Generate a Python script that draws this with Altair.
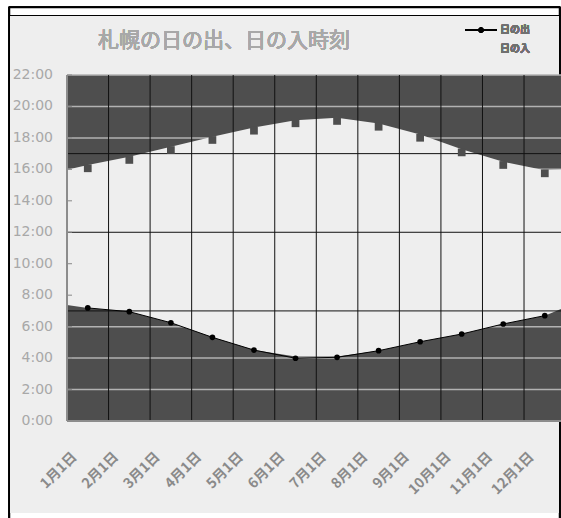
import altair as alt
import pandas as pd

# ---------------- data ----------------
title_text = "札幌の日の出、日の入時刻"
series_names = ["日の出", "日の入"]
month_labels = ["1月1日", "2月1日", "3月1日", "4月1日", "5月1日", "6月1日",
                "7月1日", "8月1日", "9月1日", "10月1日", "11月1日", "12月1日"]
month_pos = [0.5, 1.5, 2.5, 3.5, 4.5, 5.5, 6.5, 7.5, 8.5, 9.5, 10.5, 11.5]
sunrise = [7.19, 6.95, 6.25, 5.32, 4.51, 3.99, 4.05, 4.47, 5.04, 5.53, 6.17, 6.70]
sunset = [16.07, 16.60, 17.23, 17.87, 18.46, 18.93, 19.08, 18.71, 18.01, 17.08, 16.28, 15.75]
band_pos = [0, 0.5, 1.5, 2.5, 3.5, 4.5, 5.5, 6.5, 7.5, 8.5, 9.5, 10.5, 11.5, 12]
band_rise = [7.38, 7.19, 6.95, 6.25, 5.32, 4.51, 4.10, 4.10, 4.47, 5.04, 5.53, 6.17, 6.70, 7.25]
band_set = [15.97, 16.27, 16.80, 17.43, 18.07, 18.66, 19.13, 19.28, 18.91, 18.21, 17.28, 16.48, 15.95, 16.00]
hour_ticks = [0, 2, 4, 6, 8, 10, 12, 14, 16, 18, 20, 22]
black_hours = [7, 12, 17]
month_lines = [1, 2, 3, 4, 5, 6, 7, 8, 9, 10, 11]

# ---------------- tables ----------------
pts = pd.DataFrame({"m": month_pos, "rise": sunrise, "set": sunset})
band = pd.DataFrame({"m": band_pos, "rise": band_rise, "set": band_set})
hours = pd.DataFrame({"h": hour_ticks})
bh = pd.DataFrame({"h": black_hours})
vl = pd.DataFrame({"m": month_lines})
xl = pd.DataFrame({"m": month_pos, "label": month_labels})

W, H = 494, 346
X_MAX = 11.89
DARK = "#4e4e4e"
LIGHT = "#eeeeee"
CJK = "Noto Sans CJK JP"

xs = alt.Scale(domain=[0, X_MAX], nice=False, zero=False)
ys = alt.Scale(domain=[0, 22], nice=False, zero=False)

X = lambda f: alt.X(f, scale=xs, axis=None)
Y = lambda f: alt.Y(f, scale=ys, axis=None)

# ---------------- decoration (frame, backgrounds) ----------------
frame = alt.Chart(pts).mark_rect(fill="white", stroke="black", strokeWidth=1.5).encode(
    x=alt.value(-57.5), x2=alt.value(492.5), y=alt.value(-67.5), y2=alt.value(470))
inner_line = alt.Chart(pts).mark_rule(color="black", strokeWidth=1).encode(
    x=alt.value(-57.5), x2=alt.value(492.5), y=alt.value(-59.5))
gray_bg = alt.Chart(pts).mark_rect(fill=LIGHT).encode(
    x=alt.value(-57), x2=alt.value(492), y=alt.value(-59), y2=alt.value(437.5))
dark_bg = alt.Chart(pts).mark_rect(fill=DARK).encode(
    x=alt.value(0), x2=alt.value(W), y=alt.value(0), y2=alt.value(H))

# ---------------- chart content ----------------
grid = alt.Chart(hours).mark_rule(color="#b2b2b2", strokeWidth=1.5).encode(y=Y("h:Q"))

area = alt.Chart(band).mark_area(color=LIGHT, clip=True, interpolate="linear").encode(
    x=X("m:Q"), y=Y("set:Q"), y2="rise:Q")

hrules = alt.Chart(bh).mark_rule(color="#111111", strokeWidth=1).encode(y=Y("h:Q"))
vrules = alt.Chart(vl).mark_rule(color="#111111", strokeWidth=1).encode(x=X("m:Q"))

inner_ticks = alt.Chart(hours).mark_rule(color="#888888", strokeWidth=1).encode(
    x=alt.value(0), x2=alt.value(5), y=Y("h:Q"))

rise_line = alt.Chart(pts).mark_line(color="black", strokeWidth=1).encode(
    x=X("m:Q"), y=Y("rise:Q"))
rise_pts = alt.Chart(pts).mark_point(shape="circle", filled=True, color="black",
                                     size=32, opacity=1).encode(x=X("m:Q"), y=Y("rise:Q"))
set_pts = alt.Chart(pts).mark_point(shape="square", filled=True, color=DARK,
                                    size=60, opacity=1).encode(x=X("m:Q"), y=Y("set:Q"))

# ---------------- axes (domain lines + labels through the scales) ----------------
y_domain = alt.Chart(pts).mark_rule(color="#8c8c8c", strokeWidth=1).encode(
    x=alt.value(0), y=alt.value(0), y2=alt.value(H))
x_domain = alt.Chart(pts).mark_rule(color="#8c8c8c", strokeWidth=1).encode(
    x=alt.value(0), x2=alt.value(W), y=alt.value(H))

y_labels = alt.Chart(hours).transform_calculate(lbl="datum.h + ':00'").mark_text(
    align="right", baseline="middle", font="DejaVu Sans", fontSize=14,
    color="#a8a8a8").encode(
    x=alt.value(-14), y=Y("h:Q"), text="lbl:N")

x_labels = alt.Chart(xl).mark_text(
    angle=315, align="right", baseline="middle", font=CJK, fontSize=14,
    fontWeight="bold", color="#8a8a8a").encode(
    x=X("m:Q"), xOffset=alt.value(-13), y=alt.value(H + 34), text="label:N")

# ---------------- title & legend ----------------
title = alt.Chart(pts).mark_text(align="left", baseline="alphabetic", font=CJK,
                                 fontSize=21, color="#a8a8a8").encode(
    x=alt.value(31), y=alt.value(-28.5), text=alt.value(title_text))

leg_line = alt.Chart(pts).mark_rule(color="black", strokeWidth=1).encode(
    x=alt.value(398), x2=alt.value(430), y=alt.value(-45))
leg_pt = alt.Chart(pts).mark_point(shape="circle", filled=True, color="black",
                                   size=25, opacity=1).encode(
    x=alt.value(414), y=alt.value(-45))
leg_t1 = alt.Chart(pts).mark_text(align="left", baseline="middle", font=CJK,
                                  fontSize=10, fontWeight="bold", color="#707070").encode(
    x=alt.value(433), y=alt.value(-45), text=alt.value(series_names[0]))
leg_t2 = alt.Chart(pts).mark_text(align="left", baseline="middle", font=CJK,
                                  fontSize=10, fontWeight="bold", color="#707070").encode(
    x=alt.value(433), y=alt.value(-26), text=alt.value(series_names[1]))

chart = alt.layer(
    frame, inner_line, gray_bg, dark_bg, grid, area, hrules, vrules, inner_ticks,
    rise_line, rise_pts, set_pts, y_domain, x_domain, y_labels, x_labels,
    title, leg_line, leg_pt, leg_t1, leg_t2
).properties(
    width=W, height=H,
    autosize=alt.AutoSizeParams(type="none"),
    padding={"left": 67, "top": 75, "right": 0, "bottom": 97},
    background="white",
).configure_view(strokeWidth=0)

chart.save("out.html", embed_options={"renderer": "svg", "actions": False})
